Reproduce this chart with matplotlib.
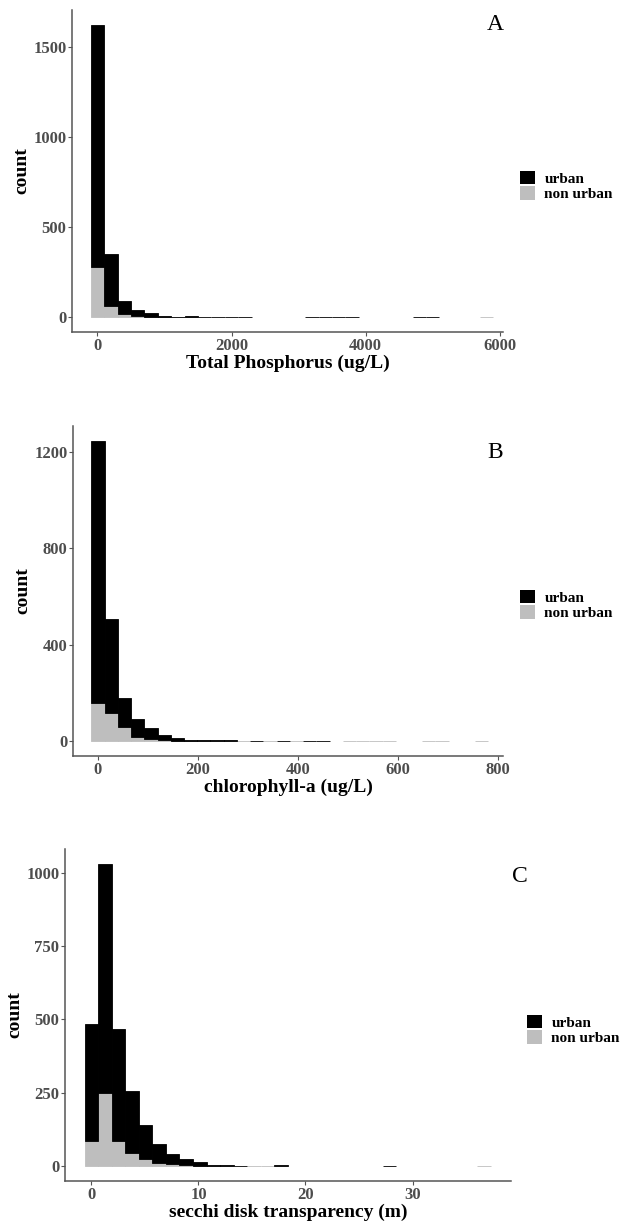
import numpy as np
import matplotlib
matplotlib.use("Agg")
import matplotlib.pyplot as plt
from matplotlib.patches import Patch

plt.rcParams['font.family'] = ['Liberation Serif', 'DejaVu Serif']

# --- data: stacked histogram counts per bin (30 bins each) ---
tp_start, tp_width = 0, 200
tp_nonurban = [278, 61, 20, 10, 4, 2, 1, 1, 0, 0, 0, 0, 0, 0, 0,
               0, 0, 0, 0, 0, 0, 0, 0, 0, 0, 0, 0, 0, 0, 1]
tp_urban = [1344, 288, 70, 29, 18, 4, 3, 5, 1, 1, 1, 1, 0, 0, 0,
            0, 1, 1, 1, 1, 0, 0, 0, 0, 1, 1, 0, 0, 0, 0]

chl_start, chl_width = 0, 26.5
chl_nonurban = [159, 115, 57, 18, 7, 3, 1, 1, 0, 0, 0, 1, 0, 1, 0,
                1, 0, 0, 0, 1, 1, 1, 1, 0, 0, 1, 1, 0, 0, 1]
chl_urban = [1087, 391, 120, 72, 46, 22, 10, 5, 5, 4, 3, 0, 2, 0, 2,
             0, 1, 1, 0, 0, 0, 0, 0, 0, 0, 0, 0, 0, 0, 0]

sd_start, sd_width = 0, 1.265
sd_nonurban = [84, 250, 84, 45, 23, 11, 6, 3, 1, 0, 0, 0, 1, 1, 0,
               0, 0, 0, 0, 0, 0, 0, 0, 0, 0, 0, 0, 0, 0, 1]
sd_urban = [402, 781, 382, 210, 118, 63, 36, 22, 11, 3, 2, 1, 0, 0, 2,
            0, 0, 0, 0, 0, 0, 0, 1, 0, 0, 0, 0, 0, 0, 0]

group_labels = ['urban', 'non urban']
urban_color = '#000000'
nonurban_color = '#bebebe'
axis_color = '#555555'

W, H = 626, 1224
fig = plt.figure(figsize=(W / 100, H / 100), dpi=100)


def px_axes(left, top, right, bottom):
    return fig.add_axes([left / W, 1 - bottom / H, (right - left) / W, (bottom - top) / H])


def panel(ax, start, width, nonurban, urban, xlabel, xlim, ylim, xticks, yticks):
    centers = start + width * np.arange(len(urban))
    # thin outline so that bins holding one or two values still show as a line
    nu_edges = [nonurban_color if v > 0 else 'none' for v in nonurban]
    ur_edges = [urban_color if v > 0 else 'none' for v in urban]
    ax.bar(centers, nonurban, width=width, color=nonurban_color,
           edgecolor=nu_edges, linewidth=0.6)
    ax.bar(centers, urban, width=width, bottom=nonurban, color=urban_color,
           edgecolor=ur_edges, linewidth=0.6)
    ax.set_xlim(*xlim)
    ax.set_ylim(*ylim)
    ax.set_xticks(xticks)
    ax.set_yticks(yticks)
    for s in ['top', 'right']:
        ax.spines[s].set_visible(False)
    for s in ['left', 'bottom']:
        ax.spines[s].set_color(axis_color)
        ax.spines[s].set_linewidth(1.1)
    ax.tick_params(length=3, width=0.8, color=axis_color, labelcolor='#4d4d4d',
                   labelsize=12, pad=1)
    for lab in ax.get_xticklabels() + ax.get_yticklabels():
        lab.set_fontweight('bold')
    ax.set_xlabel(xlabel, fontsize=14, fontweight='bold', labelpad=1)
    ax.set_ylabel('count', fontsize=14, fontweight='bold', labelpad=2)


def legend_at(x, y):
    handles = [Patch(facecolor=urban_color, edgecolor='none'),
               Patch(facecolor=nonurban_color, edgecolor='none')]
    fig.legend(handles, group_labels, loc='center left',
               bbox_to_anchor=(x / W, 1 - y / H), frameon=False,
               prop={'weight': 'bold', 'size': 11}, handlelength=1.0,
               handleheight=1.0, handletextpad=0.6, labelspacing=0.05,
               borderpad=0, borderaxespad=0)


axA = px_axes(72, 10, 503, 332)
panel(axA, tp_start, tp_width, tp_nonurban, tp_urban, 'Total Phosphorus (ug/L)',
      (-380, 6050), (-81, 1705), [0, 2000, 4000, 6000], [0, 500, 1000, 1500])
fig.text(495 / W, 1 - 24 / H, 'A', fontsize=17, ha='center', va='center')
legend_at(520, 186)

axB = px_axes(73, 426, 503, 756)
panel(axB, chl_start, chl_width, chl_nonurban, chl_urban, 'chlorophyll-a (ug/L)',
      (-50, 811), (-62, 1308), [0, 200, 400, 600, 800], [0, 400, 800, 1200])
fig.text(495 / W, 1 - 453 / H, 'B', fontsize=17, ha='center', va='center')
legend_at(520, 605)

axC = px_axes(65, 849, 511, 1181)
panel(axC, sd_start, sd_width, sd_nonurban, sd_urban, 'secchi disk transparency (m)',
      (-2.47, 39.2), (-51.5, 1082), [0, 10, 20, 30], [0, 250, 500, 750, 1000])
fig.text(520 / W, 1 - 877 / H, 'C', fontsize=17, ha='center', va='center')
legend_at(527, 1030)

fig.savefig('out.png', dpi=100)
